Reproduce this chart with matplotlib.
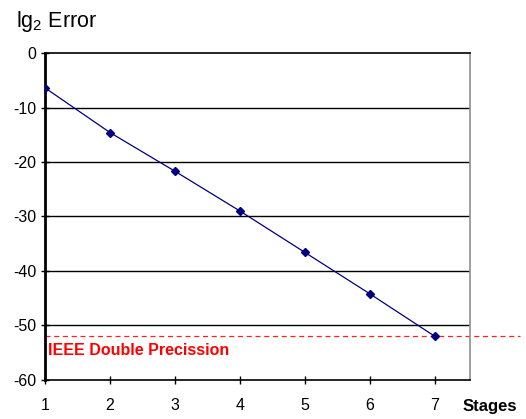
import matplotlib.pyplot as plt

stages = [1, 2, 3, 4, 5, 6, 7]
err = [-6.4, -14.6, -21.7, -29.0, -36.6, -44.2, -52.0]
ieee = -52
yticks = [0, -10, -20, -30, -40, -50, -60]

plt.rcParams['font.family'] = ['Liberation Sans', 'DejaVu Sans']
plt.rcParams['axes.unicode_minus'] = False
plt.rcParams['mathtext.fontset'] = 'custom'
plt.rcParams['mathtext.rm'] = 'Liberation Sans'
plt.rcParams['mathtext.it'] = 'Liberation Sans'

fig = plt.figure(figsize=(5.26, 4.19), dpi=100)
ax = fig.add_axes([0.0856, 0.0931, 0.808, 0.7804])

for v in yticks[1:-1]:
    ax.axhline(v, color='black', lw=1.0, zorder=1)

ax.plot(stages, err, color='#000080', lw=0.9, marker='D', ms=4.5,
        mfc='#000080', mec='#000080', zorder=3)

# red dashed line running past the right edge of the plot
ax.axhline(ieee, xmin=0, xmax=(520 - 45) / (470 - 45), color='#ff2020',
           lw=0.9, ls=(0, (4, 3)), clip_on=False, zorder=2)
ax.text(1.04, ieee - 1.2, 'IEEE Double Precission', color='#ff0000',
        fontsize=11.5, fontweight='bold', va='top', ha='left')

ax.set_xlim(1, 7.54)
ax.set_ylim(-60, 0)
ax.set_xticks(stages)
ax.set_yticks(yticks)
ax.tick_params(axis='both', direction='inout', length=6, width=1,
               labelsize=11.5, colors='black')
ax.tick_params(axis='x', pad=10)
ax.tick_params(axis='y', pad=3)

ax.spines['left'].set_linewidth(2)
ax.spines['bottom'].set_linewidth(1.2)
ax.spines['top'].set_linewidth(1.2)
ax.spines['right'].set_color('#909090')
ax.spines['right'].set_linewidth(1.2)

fig.text(0.03, 0.935, r'lg$_\mathrm{2}$ Error', fontsize=15.5, ha='left', va='baseline')
fig.text(0.88, 0.02, 'Stages', fontsize=12, fontweight='bold', ha='left')

fig.savefig('out.png', dpi=100)
